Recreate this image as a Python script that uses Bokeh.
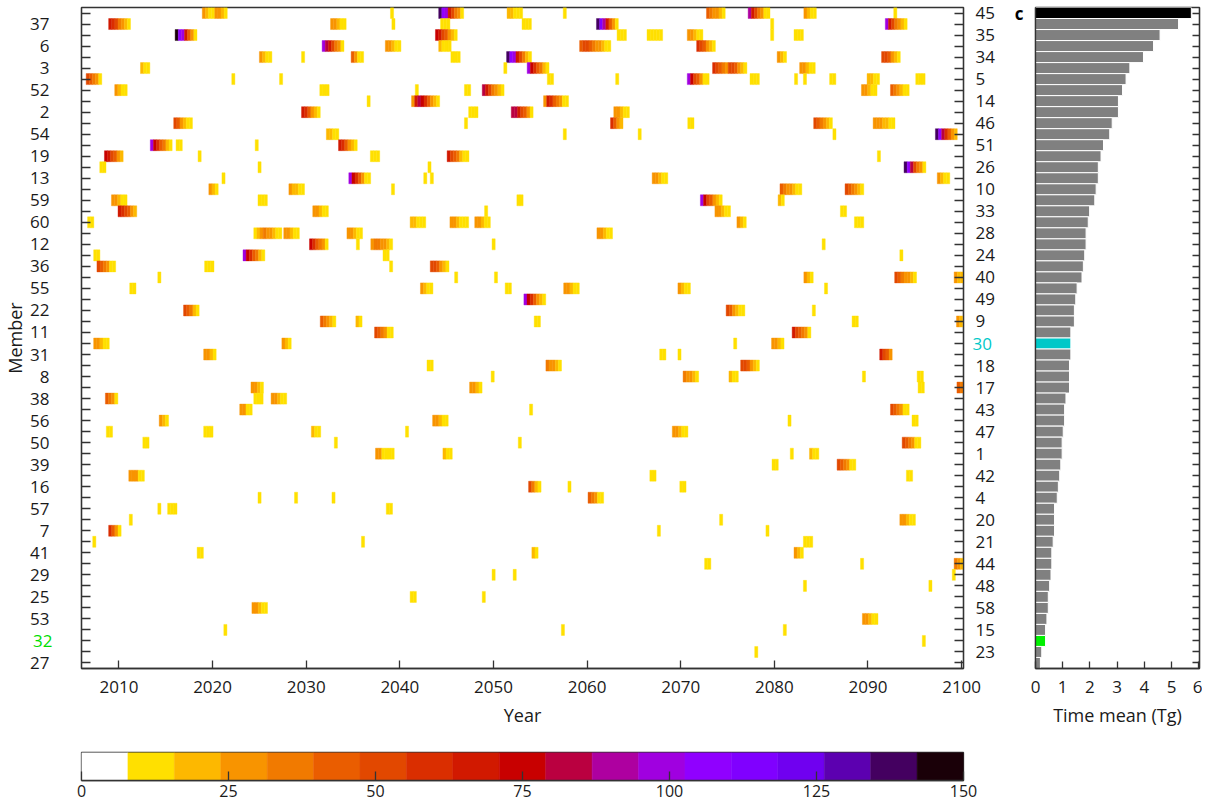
from bokeh.plotting import figure
from bokeh.models import Range1d, FixedTicker, LinearAxis, LinearColorMapper, ColumnDataSource
from bokeh.layouts import row, column
from bokeh.transform import transform
from bokeh.embed import file_html
from bokeh.resources import INLINE

FONT = "Open Sans"
TXT = "#1a1a1a"
EDGE = "#333333"
TICK_FS = "17px"
TITLE_FS = "18px"

# ---------------- data ----------------
member_order = [45, 37, 35, 6, 34, 3, 5, 52, 14, 2, 46, 54, 51, 19, 26, 13, 10, 59, 33, 60,
                28, 12, 24, 36, 40, 55, 49, 22, 9, 11, 30, 31, 18, 8, 17, 38, 43, 56, 47, 50,
                1, 39, 42, 16, 4, 57, 20, 7, 21, 41, 44, 29, 48, 25, 58, 53, 15, 32, 23, 27]

time_mean = [5.73, 5.26, 4.58, 4.34, 3.97, 3.47, 3.33, 3.20, 3.05, 3.05,
             2.82, 2.73, 2.50, 2.41, 2.31, 2.31, 2.23, 2.18, 1.99, 1.94,
             1.86, 1.86, 1.81, 1.76, 1.71, 1.53, 1.48, 1.43, 1.43, 1.30,
             1.30, 1.30, 1.25, 1.25, 1.25, 1.12, 1.07, 1.07, 1.02, 0.98,
             0.98, 0.93, 0.89, 0.84, 0.80, 0.70, 0.70, 0.70, 0.65, 0.60,
             0.60, 0.57, 0.52, 0.47, 0.47, 0.42, 0.37, 0.37, 0.23, 0.18]

bar_colors = {45: "#000000", 30: "#00C8C8", 32: "#00F000"}
label_colors = {30: "#00C8C8", 32: "#00DD00"}

palette = ["#FFFFFF", "#FFE000", "#FDB800", "#F89400", "#F17A00", "#EA5D00", "#E24800",
           "#DA2E00", "#D11900", "#C80000", "#BA0040", "#AE00A0", "#A000E0", "#9000FF",
           "#8000FF", "#7000F0", "#5C00B0", "#440060", "#1A0008"]
cbar_ticks = [0, 25, 50, 75, 100, 125, 150]
year_ticks = [2010, 2020, 2030, 2040, 2050, 2060, 2070, 2080, 2090, 2100]
bar_ticks = [0, 1, 2, 3, 4, 5, 6]

STEP = 1.0 / 3.0   # one value every four months

event_member = ([45] * 9 + [37] * 8 + [35] * 7 + [6] * 5 + [34] * 7 + [3] * 5 + [5] * 12 +
                [52] * 7 + [14] * 3 + [2] * 4 + [46] * 6 + [54] * 5 + [51] * 4 + [19] * 5 +
                [26] * 4 + [13] * 6 + [10] * 5 + [59] * 5 + [33] * 5 + [60] * 6 + [28] * 4 +
                [12] * 5 + [24] * 4 + [36] * 4 + [40] * 6 + [55] * 6 + [49] * 1 + [22] * 3 +
                [9] * 5 + [11] * 2 + [30] * 4 + [31] * 4 + [18] * 3 + [8] * 5 + [17] * 4 +
                [38] * 3 + [43] * 3 + [56] * 4 + [47] * 5 + [50] * 4 + [1] * 4 + [39] * 2 +
                [42] * 3 + [16] * 3 + [4] * 4 + [57] * 3 + [20] * 3 + [7] * 3 + [21] * 3 +
                [41] * 3 + [44] * 3 + [29] * 3 + [48] * 2 + [25] * 2 + [58] * 1 + [53] * 1 +
                [15] * 3 + [32] * 1 + [23] * 1)

event_start = [
    2018.9, 2039.0, 2044.15, 2051.45, 2057.45, 2072.75, 2077.2, 2083.15, 2092.75,   # 45
    2008.9, 2032.6, 2039.15, 2044.35, 2053.05, 2061.0, 2079.6, 2091.85,             # 37
    2016.0, 2043.8, 2063.2, 2066.4, 2070.7, 2079.6, 2082.1,                         # 35
    2031.7, 2038.45, 2044.15, 2059.2, 2071.7,                                       # 6
    2025.0, 2029.5, 2034.8, 2045.45, 2051.4, 2080.3, 2091.45,                       # 34
    2012.3, 2051.1, 2053.6, 2073.4, 2082.7,                                         # 3
    2006.5, 2022.05, 2027.15, 2055.75, 2063.05, 2070.7, 2077.4, 2082.15, 2083.1,
    2085.9, 2089.9, 2095.1,                                                         # 5
    2009.55, 2031.45, 2041.65, 2046.9, 2048.8, 2089.3, 2092.4,                      # 52
    2036.5, 2041.25, 2055.35,                                                       # 14
    2029.5, 2047.35, 2051.9, 2062.85,                                               # 2
    2015.85, 2046.9, 2062.5, 2070.75, 2084.2, 2090.55,                              # 46
    2032.15, 2057.45, 2065.45, 2086.25, 2097.2,                                     # 54
    2013.35, 2016.1, 2024.55, 2033.45,                                              # 51
    2008.45, 2018.45, 2036.85, 2045.05, 2091.0,                                     # 19
    2007.95, 2024.85, 2043.0, 2093.85,                                              # 26
    2021.0, 2034.55, 2042.55, 2043.25, 2066.95, 2097.4,                             # 13
    2019.6, 2028.15, 2039.1, 2080.6, 2087.55,                                       # 10
    2009.2, 2024.85, 2052.5, 2072.1, 2080.4,                                        # 59
    2009.9, 2030.7, 2049.05, 2073.65, 2087.05,                                      # 33
    2006.65, 2041.1, 2045.35, 2048.0, 2076.0, 2088.55,                              # 60
    2024.4, 2027.6, 2034.35, 2061.05,                                               # 28
    2030.35, 2035.35, 2036.9, 2049.85, 2085.1,                                      # 12
    2007.3, 2023.25, 2038.2, 2093.4,                                                # 24
    2007.65, 2019.15, 2038.9, 2043.25,                                              # 36
    2014.15, 2045.85, 2050.1, 2083.15, 2092.85, 2099.2,                             # 40
    2011.15, 2042.2, 2051.25, 2057.5, 2069.7, 2085.35,                              # 55
    2053.25,                                                                        # 49
    2016.9, 2074.85, 2084.05,                                                       # 22
    2031.5, 2035.3, 2054.35, 2088.3, 2099.45,                                       # 9
    2037.3, 2081.9,                                                                 # 11
    2007.3, 2027.4, 2075.65, 2079.7,                                                # 30
    2019.05, 2067.75, 2069.7, 2091.25,                                              # 31
    2042.9, 2055.6, 2076.4,                                                         # 18
    2049.75, 2070.25, 2075.15, 2089.4, 2095.25,                                     # 8
    2024.1, 2047.45, 2095.35, 2099.5,                                               # 17
    2008.55, 2024.4, 2026.25,                                                       # 38
    2022.9, 2053.85, 2092.4,                                                        # 43
    2014.3, 2043.5, 2081.45, 2094.7,                                                # 56
    2008.65, 2019.05, 2030.55, 2040.6, 2069.1,                                      # 47
    2012.55, 2033.0, 2052.65, 2093.65,                                              # 50
    2037.4, 2044.6, 2081.7, 2083.75,                                                # 1
    2079.75, 2086.7,                                                                # 39
    2011.05, 2066.7, 2094.1,                                                        # 42
    2053.75, 2057.95, 2069.9,                                                       # 16
    2024.85, 2028.75, 2032.75, 2060.1,                                              # 4
    2014.15, 2015.2, 2038.55,                                                       # 57
    2011.1, 2074.15, 2093.4,                                                        # 20
    2008.9, 2067.5, 2079.1,                                                         # 7
    2007.2, 2035.9, 2083.1,                                                         # 21
    2018.35, 2054.1, 2082.1,                                                        # 41
    2072.55, 2089.2, 2099.2,                                                        # 44
    2049.85, 2052.1, 2099.0,                                                        # 29
    2083.1, 2096.5,                                                                 # 48
    2041.1, 2048.8,                                                                 # 25
    2024.2,                                                                         # 58
    2089.4,                                                                         # 53
    2021.2, 2057.25, 2080.95,                                                       # 15
    2095.8,                                                                         # 32
    2077.9,                                                                         # 23
]

event_values = [
    # 45
    [25, 22, 12, 12, 25, 28, 22, 12], [12], [140, 110, 95, 70, 50, 35, 25, 15], [22, 20, 15, 12, 12],
    [12], [45, 38, 30, 25, 20, 12], [90, 65, 50, 35, 25, 15, 12], [25, 22, 15, 12], [10],
    # 37
    [70, 60, 50, 38, 28, 18, 12], [28, 25, 20, 12, 12], [10], [12, 12, 12], [12, 12, 12],
    [135, 115, 90, 65, 45, 30, 15], [12], [95, 65, 50, 35, 25, 18, 12],
    # 35
    [145, 110, 95, 70, 45, 28, 15], [75, 65, 55, 40, 28, 18, 12], [12, 12, 12], [12, 12, 12, 12, 12],
    [30, 25, 20, 15, 12], [12], [12, 12, 12],
    # 6
    [95, 85, 65, 50, 38, 25, 15], [28, 25, 18, 12, 12], [18, 12, 12, 12],
    [45, 55, 50, 45, 38, 30, 25, 20, 15, 12], [60, 50, 40, 30, 22, 15],
    # 34
    [25, 20, 12, 12], [10], [40, 28, 15, 12], [12, 12, 12], [140, 110, 95, 70, 50, 35, 20, 12],
    [28, 22, 12], [55, 50, 40, 30, 20, 12],
    # 3
    [20, 15, 12], [12], [95, 75, 60, 45, 32, 20, 12], [60, 55, 45, 35, 25, 55, 50, 40, 30, 22, 15],
    [30, 25, 18, 12, 12],
    # 5
    [55, 45, 35, 25, 15], [12], [9], [12, 12], [12], [95, 75, 55, 40, 25, 15, 12], [12, 12, 12],
    [12], [10], [12, 12], [22, 18, 12, 12], [12, 12, 12],
    # 52
    [28, 20, 12, 12], [12, 12, 12], [10], [12, 12], [85, 65, 50, 38, 28, 20, 12],
    [30, 28, 22, 15, 12], [45, 38, 30, 22, 15, 12],
    # 14
    [10], [30, 70, 85, 75, 60, 45, 30, 20, 12], [30, 70, 60, 45, 35, 25, 15, 12],
    # 2
    [70, 60, 45, 30, 20, 12], [12, 12, 12], [85, 80, 70, 55, 40, 28, 15], [30, 25, 20, 12, 12],
    # 46
    [50, 40, 30, 22, 15, 12], [10], [60, 40, 28, 20], [12, 12], [50, 45, 35, 25, 18, 12],
    [30, 30, 25, 22, 18, 12, 12],
    # 54
    [20, 18, 12, 12], [12], [12], [10], [140, 110, 85, 60, 45, 30, 20],
    # 51
    [95, 75, 60, 45, 32, 22, 12], [12, 12], [10], [70, 60, 45, 30, 20, 12],
    # 19
    [75, 65, 55, 40, 28, 18], [10], [12, 12, 12], [65, 55, 45, 32, 22, 15, 12], [12],
    # 26
    [12, 12], [10], [10], [140, 110, 80, 55, 38, 25, 15],
    # 13
    [12], [95, 75, 60, 42, 28, 15, 12], [10], [12], [30, 28, 20, 12, 12], [25, 20, 12, 12],
    # 10
    [28, 20, 12], [25, 22, 18, 12, 12], [10], [40, 35, 30, 25, 20, 12, 12], [55, 45, 35, 25, 18, 12],
    # 59
    [28, 25, 20, 15, 12], [12, 12, 12], [12, 12], [95, 75, 55, 40, 28, 18, 12], [20, 12],
    # 33
    [70, 60, 50, 40, 30, 20], [28, 25, 20, 12, 12], [12], [28, 25, 20, 12, 12], [12, 12],
    # 60
    [12, 12], [20, 22, 15, 12, 12], [28, 25, 20, 15, 12, 12], [28, 25, 18, 12, 12], [25, 20, 12],
    [12, 12, 12],
    # 28
    [15, 20, 30, 35, 30, 25, 20, 15, 12], [30, 28, 20, 15, 12], [28, 25, 20, 15, 12],
    [28, 25, 18, 12, 12],
    # 12
    [75, 60, 45, 35, 25, 15], [10], [30, 35, 32, 28, 25, 20, 12], [10], [10],
    # 24
    [12, 12], [95, 75, 60, 45, 32, 22, 12], [12, 12], [12],
    # 36
    [55, 45, 35, 25, 15, 12], [12, 12, 12], [10], [55, 50, 40, 30, 20, 12],
    # 40
    [12], [10], [12], [28, 22, 15], [50, 45, 38, 30, 25, 20, 15], [28, 22, 18],
    # 55
    [12, 12], [25, 20, 12, 12], [12, 12], [28, 25, 18, 12, 12], [28, 22, 15, 12], [12],
    # 49
    [100, 75, 60, 45, 30, 20, 12],
    # 22
    [55, 45, 35, 22, 15], [50, 40, 30, 22, 15, 12], [12],
    # 9
    [40, 35, 28, 20, 12], [20, 12], [12, 12], [12, 12], [30, 22],
    # 11
    [55, 45, 35, 25, 15, 12], [65, 55, 45, 35, 25, 15],
    # 30
    [30, 28, 20, 15, 12], [25, 20, 12], [12], [28, 25, 18, 12],
    # 31
    [28, 25, 20, 12], [12, 12], [12], [70, 55, 40, 25],
    # 18
    [12, 12], [35, 30, 25, 20, 12], [55, 50, 40, 30, 20, 12],
    # 8
    [12], [35, 30, 25, 20, 12], [20, 15, 12], [12], [12, 12],
    # 17
    [30, 25, 18, 12], [28, 25, 18, 12], [12, 12], [45, 35],
    # 38
    [45, 35, 25, 15], [12, 12, 12], [28, 25, 18, 12, 12],
    # 43
    [28, 25, 15, 12], [10], [50, 45, 35, 25, 15, 12],
    # 56
    [30, 22, 12], [28, 25, 20, 15, 12], [10], [12, 12],
    # 47
    [12, 12], [12, 12, 12], [20, 12, 12], [12], [28, 25, 18, 12, 12],
    # 50
    [12, 12], [10], [12], [55, 45, 35, 25, 15, 12],
    # 1
    [28, 25, 15, 12, 12, 12], [20, 12, 12], [10], [20, 12, 12],
    # 39
    [12, 12], [55, 45, 35, 25, 15, 12],
    # 42
    [30, 28, 25, 15, 12], [12, 12], [12, 12],
    # 16
    [50, 35, 20, 12], [12], [12, 12],
    # 4
    [12], [12], [10], [40, 35, 28, 15, 12],
    # 57
    [10], [12, 12, 12], [12, 12],
    # 20
    [10], [12], [30, 28, 22, 15, 12],
    # 7
    [60, 40, 25, 15], [12], [10],
    # 21
    [12], [12], [12, 12, 12],
    # 41
    [12, 12], [20, 12], [25, 18, 12],
    # 44
    [12, 12], [10], [35, 28, 20],
    # 29
    [12], [12], [10],
    # 48
    [10], [10],
    # 25
    [12, 12], [12],
    # 58
    [30, 25, 18, 12, 12],
    # 53
    [28, 25, 18, 12, 12],
    # 15
    [12], [10], [10],
    # 32
    [12],
    # 23
    [12],
]

# ---------------- derived sources ----------------
n_rows = len(member_order)
rows = list(range(1, n_rows + 1))
row_of = {m: i + 1 for i, m in enumerate(member_order)}

L, R, T, B, V = [], [], [], [], []
for m, s, vals in zip(event_member, event_start, event_values):
    r = row_of[m]
    for j, v in enumerate(vals):
        L.append(s + j * STEP)
        R.append(s + (j + 1) * STEP)
        T.append(r - 0.5)
        B.append(r + 0.5)
        V.append(v)
heat_src = ColumnDataSource(dict(left=L, right=R, top=T, bottom=B, val=V))

mapper = LinearColorMapper(palette=palette, low=cbar_ticks[0], high=cbar_ticks[-1])


def style_axis(ax, size=TICK_FS):
    ax.major_label_text_font = FONT
    ax.major_label_text_font_size = size
    ax.major_label_text_color = TXT
    ax.axis_label_text_font = FONT
    ax.axis_label_text_font_size = TITLE_FS
    ax.axis_label_text_font_style = "normal"
    ax.axis_label_text_color = TXT
    ax.axis_line_color = EDGE
    ax.axis_line_width = 1.3
    ax.major_tick_line_color = EDGE
    ax.major_tick_line_width = 1.3
    ax.major_tick_out = 0
    ax.minor_tick_in = 0
    ax.minor_tick_out = 0


def label_only(ax):
    ax.axis_line_color = None
    ax.major_tick_line_color = None
    ax.major_tick_in = 0


# ---------------- heat map ----------------
p = figure(width=1003, height=735, x_range=Range1d(2006.0, 2100.2), y_range=Range1d(n_rows + 0.5, 0.5),
           output_backend="svg", toolbar_location=None,
           min_border_left=81, min_border_right=40, min_border_top=7, min_border_bottom=67)
p.grid.visible = False
p.outline_line_color = EDGE
p.outline_line_width = 1.3
p.background_fill_color = "white"
p.border_fill_color = "white"

p.quad(left="left", right="right", top="top", bottom="bottom", source=heat_src,
       fill_color=transform("val", mapper), line_color=transform("val", mapper), line_width=0.4)

xa = p.xaxis[0]
style_axis(xa)
xa.ticker = FixedTicker(ticks=year_ticks)
xa.major_tick_in = 8
xa.major_label_standoff = 12
xa.axis_label = "Year"
xa.axis_label_standoff = 7

# inner left axis: ticks on every member row, coloured label for member 32
ya = p.yaxis[0]
style_axis(ya)
ya.ticker = FixedTicker(ticks=rows)
ya.major_tick_in = 9
ya.major_label_standoff = 29
ya.major_label_text_color = label_colors[32]
ya.major_label_overrides = {r: (str(m) if m == 32 else "") for r, m in zip(rows, member_order)}

# outer left axis: the black member labels, pulled back onto the same column
yl = LinearAxis(ticker=FixedTicker(ticks=rows))
style_axis(yl)
label_only(yl)
yl.major_label_standoff = -19
yl.major_label_overrides = {r: (str(m) if (r % 2 == 0 and m != 32) else "")
                            for r, m in zip(rows, member_order)}
yl.axis_label = "Member"
yl.axis_label_standoff = 0
p.add_layout(yl, "left")

# inner right axis: ticks, coloured label for member 30
yr = LinearAxis(ticker=FixedTicker(ticks=rows))
style_axis(yr)
yr.major_tick_in = 9
yr.major_label_standoff = 9
yr.major_label_text_color = label_colors[30]
yr.major_label_overrides = {r: (str(m) if m == 30 else "") for r, m in zip(rows, member_order)}
p.add_layout(yr, "right")

# outer right axis: black labels for odd rows
yr2 = LinearAxis(ticker=FixedTicker(ticks=rows))
style_axis(yr2)
label_only(yr2)
yr2.major_label_standoff = -19
yr2.major_label_overrides = {r: (str(m) if (r % 2 == 1 and m != 30) else "")
                             for r, m in zip(rows, member_order)}
p.add_layout(yr2, "right")

# ---------------- colour bar ----------------
nb = len(palette)
edges = [cbar_ticks[0] + (cbar_ticks[-1] - cbar_ticks[0]) * k / nb for k in range(nb + 1)]
cb_src = ColumnDataSource(dict(left=edges[:-1], right=edges[1:], color=palette))
pc = figure(width=1003, height=71, x_range=Range1d(cbar_ticks[0], cbar_ticks[-1]), y_range=Range1d(0, 1),
            output_backend="svg", toolbar_location=None,
            min_border_left=80, min_border_right=40, min_border_top=17, min_border_bottom=26)
pc.grid.visible = False
pc.outline_line_color = EDGE
pc.outline_line_width = 1.3
pc.yaxis.visible = False
pc.quad(left="left", right="right", top=1, bottom=0, fill_color="color", line_color="color",
        line_width=0.5, source=cb_src)
ca = pc.xaxis[0]
style_axis(ca, "16px")
ca.ticker = FixedTicker(ticks=cbar_ticks)
ca.major_tick_in = 9
ca.major_label_standoff = 4

# ---------------- time-mean bars ----------------
bar_src = ColumnDataSource(dict(y=rows, right=time_mean,
                                color=[bar_colors.get(m, "#808080") for m in member_order]))
pb = figure(width=199, height=735, x_range=Range1d(0, 6.03), y_range=Range1d(n_rows + 0.5, 0.5),
            output_backend="svg", toolbar_location=None,
            min_border_left=32, min_border_right=3, min_border_top=7, min_border_bottom=67)
pb.grid.visible = False
pb.outline_line_color = EDGE
pb.outline_line_width = 1.3
pb.hbar(y="y", left=0, right="right", height=1.0, fill_color="color", line_color="white",
        line_width=1.0, source=bar_src)

ba = pb.xaxis[0]
style_axis(ba)
ba.ticker = FixedTicker(ticks=bar_ticks)
ba.major_tick_in = 7
ba.major_label_standoff = 12
ba.axis_label = "Time mean (Tg)"
ba.axis_label_standoff = 7

# panel letter on the left edge of the bar panel
bl = pb.yaxis[0]
style_axis(bl, "17px")
bl.ticker = FixedTicker(ticks=[1])
bl.major_tick_line_color = None
bl.major_tick_in = 0
bl.major_label_standoff = 12
bl.major_label_text_font_style = "bold"
bl.major_label_text_color = "#000000"
bl.major_label_overrides = {1: "c"}

br = LinearAxis(ticker=FixedTicker(ticks=rows))
style_axis(br)
br.major_tick_in = 7
br.major_label_standoff = 0
br.major_label_overrides = {r: "" for r in rows}
pb.add_layout(br, "right")

layout = row(column(p, pc), pb)
open("out.html", "w").write(file_html(layout, INLINE))
